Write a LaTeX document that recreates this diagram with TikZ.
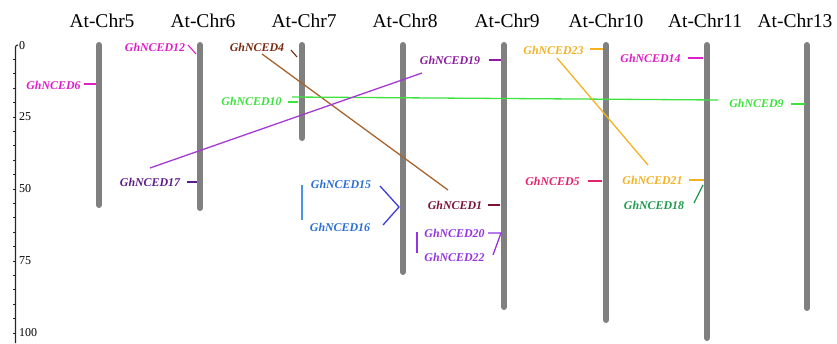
\documentclass[tikz,border=0pt]{standalone}
\usepackage{fontspec}
\setmainfont{Liberation Serif}
\definecolor{chrgray}{HTML}{808080}
\definecolor{cmag}{HTML}{E01EC8}
\definecolor{cbrownt}{HTML}{7A2A12}
\definecolor{cbrownl}{HTML}{A8642C}
\definecolor{cgreen}{HTML}{3EE23E}
\definecolor{cpurp}{HTML}{8A1E9E}
\definecolor{cpurpl}{HTML}{A43AD2}
\definecolor{cviolet}{HTML}{5C1C8C}
\definecolor{cblue}{HTML}{2A6ED6}
\definecolor{cbluel}{HTML}{4A94E4}
\definecolor{cbluebr}{HTML}{3C3CDC}
\definecolor{cmaroon}{HTML}{7C1234}
\definecolor{cpurpb}{HTML}{9434E0}
\definecolor{corange}{HTML}{F2B224}
\definecolor{cpink}{HTML}{E2226E}
\definecolor{cdgreen}{HTML}{1E9A4E}
\begin{document}
\begin{tikzpicture}[x=1pt,y=-1pt,
  chrom/.style={line width=6pt, line cap=round, draw=chrgray},
  chrtitle/.style={font=\fontsize{19.5}{20}\selectfont, anchor=base, inner sep=0pt},
  gene/.style={font=\fontsize{11.9}{13}\selectfont\bfseries\itshape, inner sep=0pt, anchor=center},
  scalelbl/.style={font=\fontsize{12}{12}\selectfont, inner sep=0pt, anchor=west},
  gtick/.style={line width=1.3pt},
  link/.style={line width=1.3pt}]
\useasboundingbox (0,0) rectangle (837,343);
% scale axis
\coordinate (axtop) at (15.5,47);
\coordinate (axbot) at (15.5,343);
\draw[line width=1.1pt, black!85] (18,45) to[out=180,in=90] (axtop) -- (axbot);
\foreach \k in {1,...,20} \draw[line width=0.9pt, black!85] (15.5,45+14.4*\k) -- ++(-3,0);
\node[scalelbl] (s0) at (19,46) {0};
\node[scalelbl] (s25) at (19,117) {25};
\node[scalelbl] (s50) at (19,189) {50};
\node[scalelbl] (s75) at (19,261) {75};
\node[scalelbl] (s100) at (19,333) {100};
% chromosomes
\draw[chrom] (99,45) -- (99,205);
\draw[chrom] (200,45) -- (200,208);
\draw[chrom] (302,45) -- (302,138);
\draw[chrom] (403,45) -- (403,272);
\draw[chrom] (504,45) -- (504,307);
\draw[chrom] (606,45) -- (606,320);
\draw[chrom] (707,45) -- (707,338);
\draw[chrom] (807,45) -- (807,308);
% titles
\node[chrtitle] (t5) at (102,27) {At-Chr5};
\node[chrtitle] (t6) at (203,27) {At-Chr6};
\node[chrtitle] (t7) at (304,27) {At-Chr7};
\node[chrtitle] (t8) at (405,27) {At-Chr8};
\node[chrtitle] (t9) at (507,27) {At-Chr9};
\node[chrtitle] (t10) at (606,27) {At-Chr10};
\node[chrtitle] (t11) at (705,27) {At-Chr11};
\node[chrtitle] (t13) at (795,27) {At-Chr13};
% gene labels
\node[gene, text=cmag] (g6) at (53.5,85) {GhNCED6};
\node[gene, text=cmag] (g12) at (155,47) {GhNCED12};
\node[gene, text=cbrownt] (g4) at (257,47) {GhNCED4};
\node[gene, text=cgreen] (g10) at (251.5,101) {GhNCED10};
\node[gene, text=cpurp] (g19) at (450,60) {GhNCED19};
\node[gene, text=cviolet] (g17) at (150,182) {GhNCED17};
\node[gene, text=cblue] (g15) at (341,184) {GhNCED15};
\node[gene, text=cblue] (g16) at (340,227) {GhNCED16};
\node[gene, text=cmaroon] (g1) at (455,205) {GhNCED1};
\node[gene, text=cpurpb] (g20) at (454.5,233) {GhNCED20};
\node[gene, text=cpurpb] (g22) at (454.5,257) {GhNCED22};
\node[gene, text=corange] (g23) at (553.5,50) {GhNCED23};
\node[gene, text=cmag] (g14) at (650.5,58) {GhNCED14};
\node[gene, text=cpink] (g5) at (552.5,181) {GhNCED5};
\node[gene, text=corange] (g21) at (652.5,180) {GhNCED21};
\node[gene, text=cdgreen] (g18) at (654,205) {GhNCED18};
\node[gene, text=cgreen] (g9) at (756.5,103) {GhNCED9};
% tick marks to chromosomes
\coordinate (k6a) at (84,84);   \coordinate (k6b) at (96,84);
\coordinate (k12a) at (188,45); \coordinate (k12b) at (196,54);
\coordinate (k4a) at (291,50);  \coordinate (k4b) at (297,57);
\coordinate (k10a) at (288,102); \coordinate (k10b) at (298,102);
\coordinate (k19a) at (489,60); \coordinate (k19b) at (501,60);
\coordinate (k17a) at (187,182); \coordinate (k17b) at (197,182);
\coordinate (k1a) at (488,205); \coordinate (k1b) at (500,205);
\coordinate (k23a) at (590,49); \coordinate (k23b) at (603,49);
\coordinate (k14a) at (688,58); \coordinate (k14b) at (703,58);
\coordinate (k5a) at (588,181); \coordinate (k5b) at (602,181);
\coordinate (k21a) at (689,180); \coordinate (k21b) at (704,180);
\coordinate (k18a) at (694,203); \coordinate (k18b) at (703,185);
\coordinate (k9a) at (791,104); \coordinate (k9b) at (805,104);
\draw[gtick, cmag] (k6a) -- (k6b);
\draw[gtick, cmag, line width=1.1pt] (k12a) -- (k12b);
\draw[gtick, cbrownt, line width=1.1pt] (k4a) -- (k4b);
\draw[gtick, cgreen] (k10a) -- (k10b);
\draw[gtick, cpurp] (k19a) -- (k19b);
\draw[gtick, cviolet] (k17a) -- (k17b);
\draw[gtick, cmaroon] (k1a) -- (k1b);
\draw[gtick, corange] (k23a) -- (k23b);
\draw[gtick, cmag] (k14a) -- (k14b);
\draw[gtick, cpink] (k5a) -- (k5b);
\draw[gtick, corange] (k21a) -- (k21b);
\draw[gtick, cdgreen] (k18a) -- (k18b);
\draw[gtick, cgreen] (k9a) -- (k9b);
% brackets
\coordinate (b15a) at (302,185); \coordinate (b15b) at (302,220);
\draw[line width=1.1pt, cbluel] (b15a) -- (b15b);
\coordinate (c15a) at (380,186); \coordinate (c15m) at (399,207); \coordinate (c15b) at (383,225);
\draw[line width=1.3pt, cbluebr] (c15a) -- (c15m) -- (c15b);
\coordinate (b20a) at (417,232); \coordinate (b20b) at (417,253);
\draw[line width=1.1pt, cpurpb] (b20a) -- (b20b);
\coordinate (c20a) at (488,233); \coordinate (c20m) at (501,233); \coordinate (c20b) at (493,255);
\draw[line width=1.3pt, cpurpb] (c20a) -- (c20m) -- (c20b);
% long links
\coordinate (l4a) at (262,54);  \coordinate (l4b) at (448,190);
\coordinate (l10a) at (292,97); \coordinate (l10b) at (718,100);
\coordinate (l19a) at (422,73); \coordinate (l19b) at (150,168);
\coordinate (l23a) at (557,58); \coordinate (l23b) at (648,165);
\draw[link, cbrownl] (l4a) -- (l4b);
\draw[link, cgreen] (l10a) -- (l10b);
\draw[link, cpurpl] (l19a) -- (l19b);
\draw[link, corange] (l23a) -- (l23b);
\end{tikzpicture}
\end{document}
